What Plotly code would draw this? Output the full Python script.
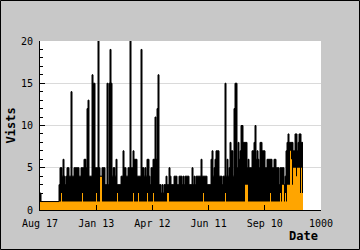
import numpy as np
import plotly.graph_objects as go

# Visits per time bin (one bin per plotted column), peak and baseline values
peak_visits = [
    2, 1, 1, 1, 1, 1, 1, 1, 1, 1,
    1, 1, 1, 1, 1, 1, 1, 1, 1, 3,
    5, 5, 4, 6, 4, 3, 4, 5, 5, 4,
    4, 14, 4, 4, 5, 5, 5, 5, 5, 4,
    4, 5, 5, 5, 6, 6, 5, 12, 13, 4,
    4, 4, 16, 15, 15, 5, 5, 5, 20, 5,
    4, 4, 5, 5, 5, 3, 3, 15, 3, 15,
    19, 15, 4, 5, 5, 4, 6, 3, 3, 3,
    3, 4, 4, 7, 5, 5, 4, 4, 5, 5,
    20, 5, 5, 7, 6, 6, 6, 4, 4, 4,
    4, 19, 5, 5, 4, 5, 4, 6, 6, 4,
    3, 5, 5, 6, 6, 11, 6, 12, 16, 3,
    3, 2, 3, 2, 3, 3, 4, 3, 3, 5,
    4, 3, 3, 3, 4, 4, 4, 3, 3, 4,
    4, 4, 3, 4, 3, 4, 4, 4, 4, 3,
    3, 3, 5, 3, 4, 3, 4, 4, 4, 4,
    4, 6, 4, 4, 4, 4, 4, 3, 3, 3,
    3, 6, 7, 4, 5, 6, 7, 7, 7, 4,
    4, 4, 3, 4, 4, 15, 4, 6, 4, 5,
    8, 7, 7, 4, 12, 15, 15, 5, 8, 6,
    7, 10, 10, 8, 8, 8, 8, 5, 6, 5,
    5, 5, 7, 7, 8, 10, 6, 7, 6, 5,
    8, 8, 7, 7, 7, 5, 5, 6, 6, 6,
    6, 6, 5, 5, 6, 6, 5, 5, 5, 3,
    5, 5, 5, 5, 3, 4, 7, 8, 9, 8,
    8, 8, 8, 7, 7, 9, 9, 7, 8, 9,
    9, 8, 8,
]

base_visits = [
    1, 1, 1, 1, 1, 1, 1, 1, 1, 1,
    1, 1, 1, 1, 1, 1, 1, 1, 1, 1,
    1, 2, 1, 1, 1, 1, 1, 1, 1, 1,
    1, 1, 1, 1, 1, 1, 1, 1, 1, 1,
    1, 1, 2, 1, 1, 1, 1, 1, 1, 1,
    1, 1, 1, 1, 1, 1, 2, 1, 1, 1,
    4, 4, 1, 1, 1, 1, 1, 1, 1, 1,
    1, 1, 1, 1, 1, 1, 1, 2, 1, 1,
    1, 1, 1, 1, 1, 1, 1, 1, 1, 1,
    1, 1, 1, 2, 1, 1, 1, 1, 2, 1,
    1, 1, 1, 1, 1, 1, 1, 2, 1, 1,
    1, 1, 1, 2, 1, 1, 1, 1, 1, 1,
    1, 1, 1, 1, 1, 1, 1, 2, 2, 1,
    1, 1, 1, 1, 1, 1, 1, 1, 1, 1,
    1, 1, 1, 1, 1, 1, 1, 1, 1, 1,
    1, 1, 1, 1, 1, 1, 1, 1, 1, 1,
    1, 1, 1, 2, 1, 1, 1, 1, 1, 1,
    1, 1, 1, 1, 1, 1, 1, 1, 1, 1,
    1, 1, 1, 1, 1, 2, 1, 1, 1, 1,
    1, 1, 1, 1, 1, 1, 1, 1, 1, 1,
    1, 1, 1, 1, 1, 3, 3, 3, 1, 1,
    1, 1, 1, 1, 1, 1, 1, 1, 1, 1,
    1, 1, 1, 1, 1, 1, 1, 1, 1, 1,
    2, 1, 1, 1, 1, 1, 1, 1, 1, 1,
    2, 1, 3, 3, 1, 2, 1, 3, 3, 3,
    7, 6, 3, 5, 5, 5, 4, 5, 5, 5,
    2, 5, 2,
]

x_tick_vals = [0, 200, 400, 600, 800, 1000]
x_tick_text = ["Aug 17", "Jan 13", "Apr 12", "Jun 11", "Sep 10", "1000"]
y_tick_vals = [0, 5, 10, 15, 20]

W, H = 360, 250
ML, MR, MT, MB = 40, 39, 41, 40
PW, PH = W - ML - MR, H - MT - MB

n = len(peak_visits)
bin_w = 1000.0 / PW
edges = np.arange(n + 1) * bin_w
peak_ext = peak_visits + [peak_visits[-1]]
base_ext = base_visits + [base_visits[-1]]

fig = go.Figure()
fig.add_trace(go.Scatter(x=edges, y=peak_ext, mode="lines",
                         line=dict(shape="hv", width=0, color="black"),
                         fill="tozeroy", fillcolor="black", hoverinfo="skip"))
fig.add_trace(go.Scatter(x=edges, y=base_ext, mode="lines",
                         line=dict(shape="hv", width=0, color="#ffa500"),
                         fill="tozeroy", fillcolor="#ffa500", hoverinfo="skip"))
fig.add_trace(go.Scatter(x=edges, y=peak_ext, mode="lines",
                         line=dict(shape="hv", width=1, color="black"),
                         hoverinfo="skip"))

tick_font = dict(family="DejaVu Sans Mono", size=10, color="black")

fig.update_layout(
    width=W, height=H,
    margin=dict(l=ML, r=MR, t=MT, b=MB, pad=0),
    paper_bgcolor="#c8c8c8",
    plot_bgcolor="white",
    showlegend=False,
    xaxis=dict(range=[0, 1000], tickmode="array", tickvals=x_tick_vals,
               ticktext=x_tick_text, ticks="inside", ticklen=5,
               tickcolor="black", showgrid=False, zeroline=False,
               showline=True, linecolor="black", linewidth=1,
               tickfont=tick_font, ticklabelstandoff=4, fixedrange=True),
    yaxis=dict(range=[0, 20], tickmode="array", tickvals=y_tick_vals,
               ticks="inside", ticklen=5, tickcolor="black",
               minor=dict(dtick=1, ticks="inside", ticklen=3,
                          tickcolor="black", showgrid=False),
               showgrid=True, gridcolor="#dadada", gridwidth=1,
               zeroline=False, showline=True, linecolor="black",
               linewidth=1, tickfont=tick_font, ticklabelstandoff=4,
               fixedrange=True),
    annotations=[
        dict(text="<b>Vists</b>", xref="paper", yref="paper",
             x=-(ML - 10) / PW, y=0.5, xanchor="center", yanchor="middle",
             textangle=-90, showarrow=False,
             font=dict(family="DejaVu Sans Mono", size=12, color="black")),
        dict(text="<b>Date</b>", xref="paper", yref="paper",
             x=1.0 - 1.5 / PW, y=-25.5 / PH, xanchor="right", yanchor="middle",
             showarrow=False,
             font=dict(family="DejaVu Sans Mono", size=12, color="black")),
    ],
    shapes=[
        dict(type="rect", xref="paper", yref="paper",
             x0=(-ML + 0.5) / PW, x1=1 + (MR - 0.5) / PW,
             y0=(-MB + 0.5) / PH, y1=1 + (MT - 0.5) / PH,
             line=dict(color="black", width=1), layer="above"),
    ],
)

fig.write_html("out.html", config={"displayModeBar": False})
